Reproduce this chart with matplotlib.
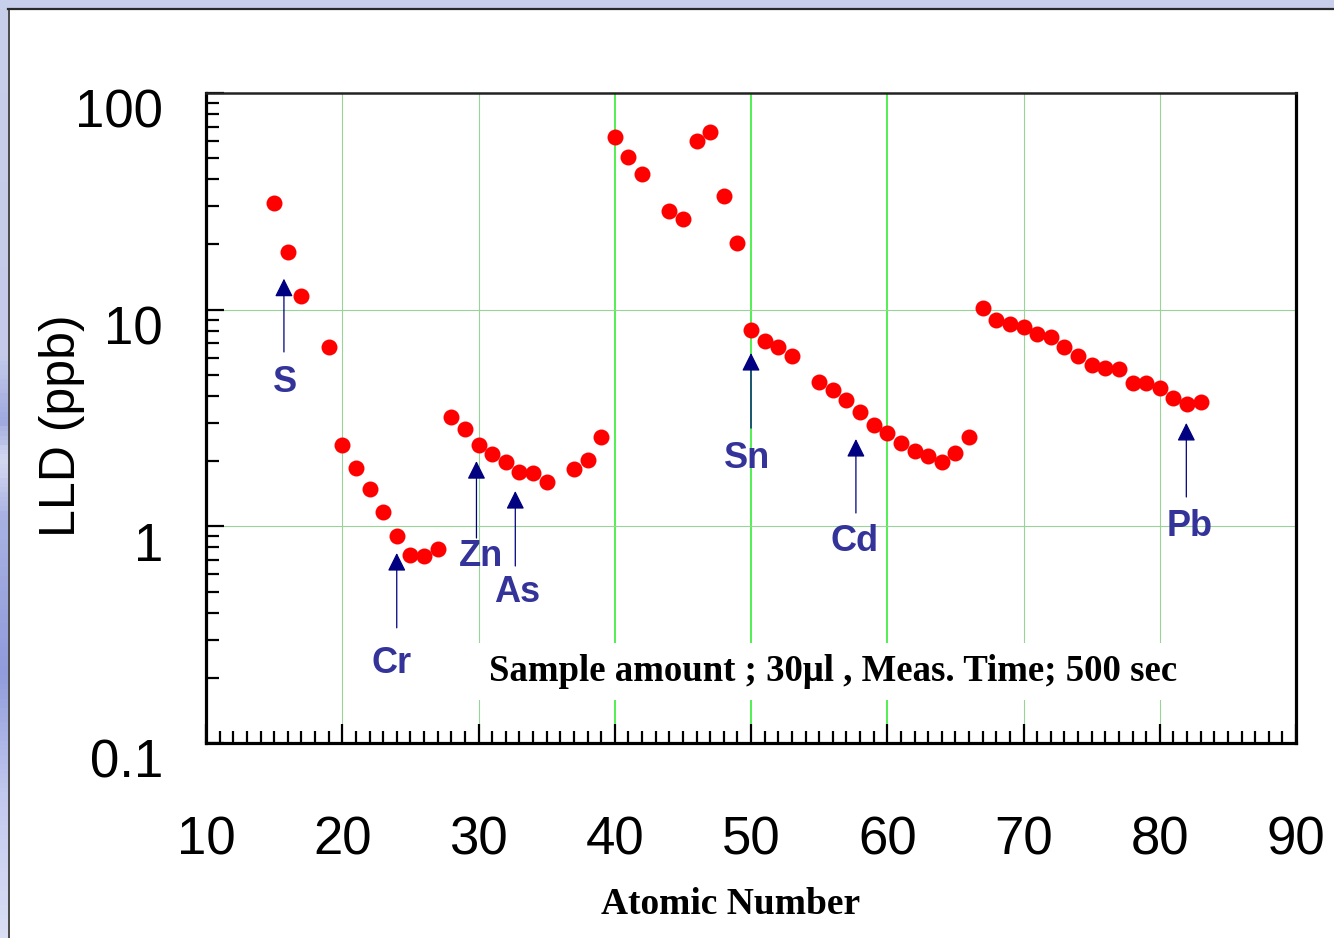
import numpy as np
import matplotlib.pyplot as plt
from matplotlib.colors import LinearSegmentedColormap
from matplotlib.patches import Rectangle
from matplotlib.lines import Line2D

# lower limits of detection by atomic number
atomic_number = [15, 16, 17, 19, 20, 21, 22, 23, 24, 25, 26, 27,
                 28, 29, 30, 31, 32, 33, 34, 35, 37, 38, 39,
                 40, 41, 42, 44, 45, 46, 47, 48, 49,
                 50, 51, 52, 53, 55, 56, 57, 58, 59, 60, 61, 62, 63, 64, 65, 66,
                 67, 68, 69, 70, 71, 72, 73, 74, 75, 76, 77, 78, 79, 80, 81, 82, 83]
lld_ppb = [31, 18.5, 11.6, 6.7, 2.37, 1.86, 1.49, 1.16, 0.90, 0.74, 0.73, 0.79,
           3.2, 2.81, 2.37, 2.16, 1.98, 1.78, 1.76, 1.60, 1.84, 2.02, 2.58,
           62.6, 50.7, 42.3, 28.5, 26.2, 60, 66, 33.5, 20.3,
           8.05, 7.17, 6.7, 6.1, 4.64, 4.26, 3.83, 3.37, 2.94, 2.70, 2.42, 2.23, 2.11, 1.98, 2.18, 2.58,
           10.2, 8.95, 8.6, 8.32, 7.73, 7.48, 6.7, 6.1, 5.55, 5.4, 5.32, 4.59, 4.59, 4.35, 3.91, 3.67, 3.73]

# element markers: name, x, arrow tip, arrow tail, label position
elements = ["S", "Cr", "Zn", "As", "Sn", "Cd", "Pb"]
elem_x = [15.72, 24.0, 29.85, 32.7, 50.0, 57.7, 81.95]
arrow_tip = [13.9, 0.753, 2.00, 1.455, 6.31, 2.53, 3.0]
arrow_tail = [6.38, 0.340, 0.883, 0.656, 2.84, 1.152, 1.366]
label_x = [15.8, 23.65, 30.18, 32.83, 49.7, 57.63, 82.2]
label_y = [4.6, 0.232, 0.725, 0.495, 2.05, 0.85, 1.0]

x_ticks = [10, 20, 30, 40, 50, 60, 70, 80, 90]
y_ticks = [100, 10, 1, 0.1]
y_tick_labels = ["100", "10", "1", "0.1"]

narrow = ["Liberation Sans Narrow", "Liberation Sans"]
grid_soft = "#98d498"
grid_green = "#33ee33"
navy = "#000080"
label_blue = "#333399"

fig = plt.figure(figsize=(13.34, 9.38), dpi=100)
fig.patch.set_facecolor("white")

# slide frame: lavender band on top and a shaded strip on the left
fig.patches.append(Rectangle((0, 1 - 9 / 938), 1, 9 / 938, transform=fig.transFigure,
                             facecolor="#c8cfea", edgecolor="none", zorder=0))
strip = fig.add_axes([0, 0, 8 / 1334, 1])
strip.axis("off")
cmap = LinearSegmentedColormap.from_list("strip", [
    (0.0, "#c8cfea"), (0.38, "#c4cbea"), (0.45, "#9fa9de"), (0.49, "#d6dbf2"),
    (0.55, "#a9b2e2"), (0.72, "#909cdc"), (0.85, "#c2c9ee"), (1.0, "#d9def5")])
strip.imshow(np.linspace(0, 1, 200).reshape(-1, 1), aspect="auto", cmap=cmap,
             extent=[0, 1, 0, 1])
fig.add_artist(Line2D([8 / 1334, 1], [1 - 9.5 / 938, 1 - 9.5 / 938],
                      transform=fig.transFigure, color="#2a2a2a", lw=1.6))
fig.add_artist(Line2D([8.5 / 1334, 8.5 / 1334], [0, 1 - 9.5 / 938],
                      transform=fig.transFigure, color="#2a2a2a", lw=1.2))

ax = fig.add_axes([206 / 1334, 1 - 743 / 938, 1090 / 1334, 650 / 938])
ax.set_yscale("log")
ax.set_xlim(10, 90)
ax.set_ylim(0.1, 100)

# grid: x every 10, y every decade; 40-60 drawn stronger
for xv in x_ticks[1:-1]:
    strong = xv in (40, 50, 60)
    ax.axvline(xv, color=grid_green if strong else grid_soft,
               lw=1.2 if strong else 0.8, zorder=1)
for yv in [10, 1]:
    ax.axhline(yv, color=grid_soft, lw=0.8, zorder=1)

ax.plot(atomic_number, lld_ppb, "o", color="#ff0000", markersize=11.5,
        markeredgewidth=0, zorder=4)

for name, xe, tip, tail, lx, ly in zip(elements, elem_x, arrow_tip, arrow_tail,
                                        label_x, label_y):
    ax.annotate("", xy=(xe, tip), xytext=(xe, tail),
                arrowprops=dict(arrowstyle="-|>,head_length=0.7,head_width=0.35",
                                color=navy, lw=0.9, mutation_scale=16,
                                shrinkA=0, shrinkB=0), zorder=3)
    ax.text(lx, ly, name, color=label_blue, fontsize=26, fontweight="bold",
            family="Liberation Sans", ha="center", va="center", zorder=5)

ax.text(56.0, 0.214, "Sample amount ; 30\u03bcl , Meas. Time; 500 sec",
        family="Liberation Serif", fontweight="bold", fontsize=26.5,
        ha="center", va="center", zorder=3,
        bbox=dict(boxstyle="square,pad=0.3", facecolor="white", edgecolor="none"))

# axes frame and inward ticks
for side in ["left", "bottom", "right"]:
    ax.spines[side].set_linewidth(2.3)
ax.spines["top"].set_linewidth(1.8)
ax.spines["top"].set_color("#222222")

ax.set_xticks(x_ticks)
ax.set_xticks(np.arange(10, 91, 1), minor=True)
ax.set_xticklabels([str(v) for v in x_ticks], family=narrow, fontsize=38)
ax.tick_params(axis="x", which="major", direction="in", length=14, width=1.6, pad=52)
ax.tick_params(axis="x", which="minor", direction="in", length=9, width=1.6)

ax.set_yticks(y_ticks)
ax.set_yticklabels([])
ax.tick_params(axis="y", which="major", direction="in", length=13, width=1.6)
ax.tick_params(axis="y", which="minor", direction="in", length=9, width=1.6)
ax.tick_params(axis="y", which="minor", labelleft=False)
for yv, lab in zip(y_ticks, y_tick_labels):
    ax.annotate(lab, xy=(0, yv), xycoords=("axes fraction", "data"),
                xytext=(-31, -15), textcoords="offset points",
                ha="right", va="center", family=narrow, fontsize=38,
                annotation_clip=False)

fig.text(62 / 1334, 1 - 426 / 938, "LLD (ppb)", rotation=90, family="Liberation Sans",
         fontsize=36, ha="center", va="center")
fig.text(731 / 1334, 1 - 905 / 938, "Atomic Number", family="Liberation Serif",
         fontweight="bold", fontsize=27, ha="center", va="center")

fig.savefig("out.png", dpi=100)
